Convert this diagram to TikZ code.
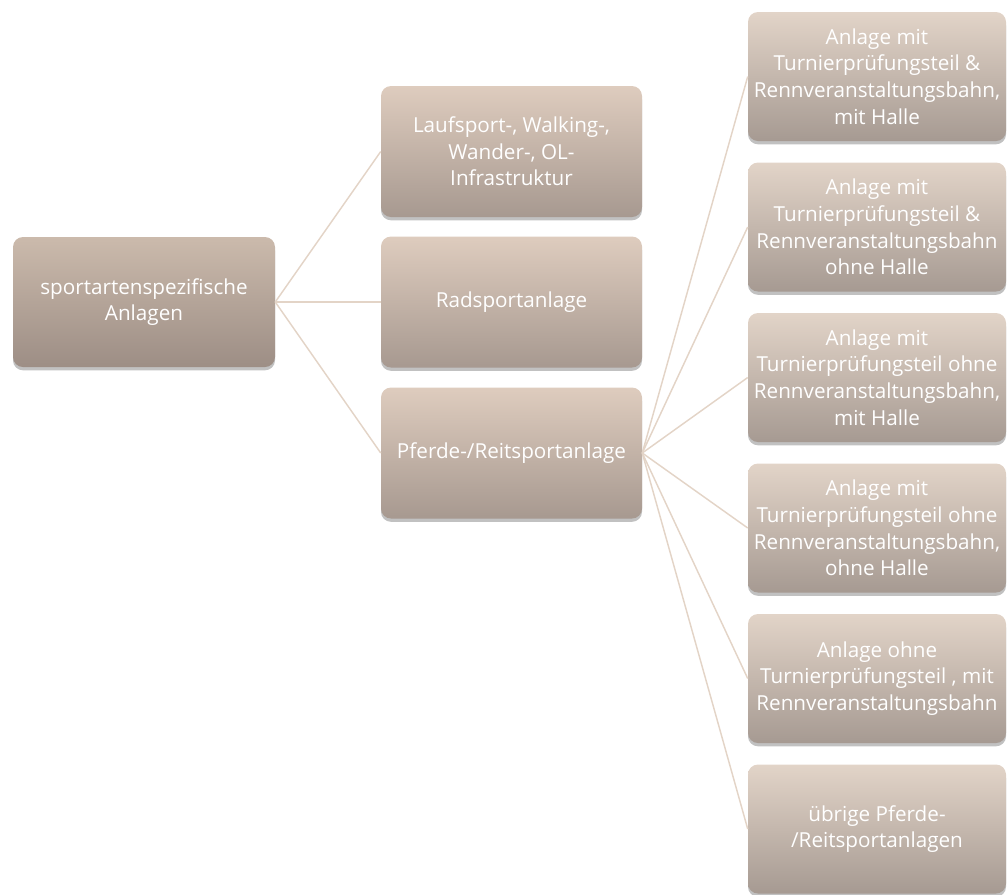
\documentclass[tikz,border=0pt]{standalone}
\usepackage{fontspec}
\setmainfont{Open Sans}
\usetikzlibrary{shadows}
\definecolor{linecol}{HTML}{E3D4C7}
\definecolor{rtop}{HTML}{CBBAAC}
\definecolor{rbot}{HTML}{9D8E85}
\definecolor{mtop}{HTML}{DECCBE}
\definecolor{mbot}{HTML}{A79990}
\definecolor{ttop}{HTML}{E2D4C8}
\definecolor{tbot}{HTML}{A69A92}
\tikzset{
  box/.style={rounded corners=7.5pt, align=center, text=white, inner sep=2pt,
    font=\fontsize{15.5}{19.9}\selectfont,
    drop shadow={opacity=0.35, shadow xshift=0pt, shadow yshift=-2.5pt, fill=black!70}},
  rootbox/.style={box, top color=rtop, bottom color=rbot, minimum width=196.5pt, minimum height=97.5pt},
  midbox/.style={box, top color=mtop, bottom color=mbot, minimum width=195.75pt, minimum height=98.25pt},
  leafbox/.style={box, top color=ttop, bottom color=tbot, minimum width=193.5pt, minimum height=96.75pt},
  conn/.style={draw=linecol, line width=1.1pt}
}
\begin{document}
\begin{tikzpicture}[x=0.75pt,y=-0.75pt]
\useasboundingbox (0,0) rectangle (1008,894);
\node[rootbox] (root) at (144,302) {sportartenspezifische\\Anlagen};
\node[midbox] (m1) at (511.5,151.5) {Laufsport-, Walking-,\\Wander-, OL-\\Infrastruktur};
\node[midbox] (m2) at (511.5,302) {Radsportanlage};
\node[midbox] (m3) at (511.5,453) {Pferde-/Reitsportanlage};
\node[leafbox] (l1) at (877,76.5) {Anlage mit\\Turnierprüfungsteil \&\\Rennveranstaltungsbahn,\\mit Halle};
\node[leafbox] (l2) at (877,227) {Anlage mit\\Turnierprüfungsteil \&\\Rennveranstaltungsbahn\\ohne Halle};
\node[leafbox] (l3) at (877,377.5) {Anlage mit\\Turnierprüfungsteil ohne\\Rennveranstaltungsbahn,\\mit Halle};
\node[leafbox] (l4) at (877,528) {Anlage mit\\Turnierprüfungsteil ohne\\Rennveranstaltungsbahn,\\ohne Halle};
\node[leafbox] (l5) at (877,678.5) {Anlage ohne\\Turnierprüfungsteil , mit\\Rennveranstaltungsbahn};
\node[leafbox] (l6) at (877,829) {übrige Pferde-\\/Reitsportanlagen};
\foreach \m in {m1,m2,m3} \draw[conn] (root.east) -- (\m.west);
\foreach \l in {l1,l2,l3,l4,l5,l6} \draw[conn] (m3.east) -- (\l.west);
\end{tikzpicture}
\end{document}
